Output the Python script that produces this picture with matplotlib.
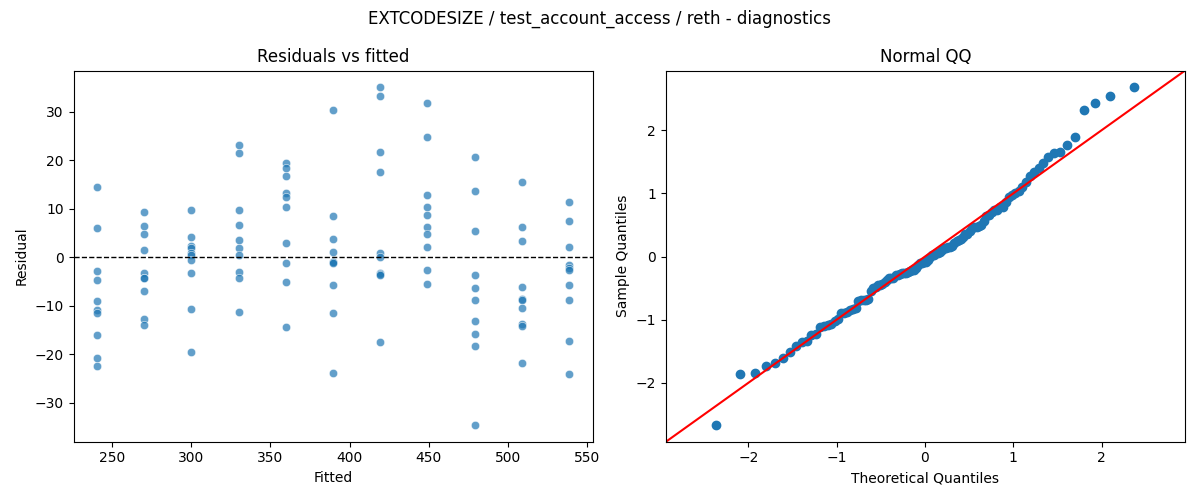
import matplotlib
matplotlib.use("Agg")
import matplotlib.pyplot as plt
import numpy as np
import seaborn as sns
from statistics import NormalDist

# fitted value of each group (one per x column in the residual plot)
fitted_levels = [240.6, 270.4, 300.2, 330.0, 359.8, 389.6, 419.4, 449.2, 479.0, 508.8, 538.6]

# residuals, one list per fitted level
resid_groups = [
    [14.4, 6.0, -2.9, -4.7, -9.1, -11.0, -11.5, -16.1, -20.9, -22.4],
    [9.3, 6.4, 4.7, 1.4, -3.2, -4.3, -4.4, -7.0, -12.8, -14.0],
    [9.7, 4.1, 2.2, 1.8, 0.8, 0.5, -0.6, -3.3, -10.7, -19.6],
    [23.1, 21.4, 9.7, 6.6, 3.6, 1.8, 0.5, -3.0, -4.3, -11.3],
    [19.4, 18.3, 16.7, 13.2, 12.5, 10.3, 2.9, -1.2, -5.1, -14.4],
    [30.3, 8.4, 3.7, 1.0, -1.0, -1.1, -1.2, -5.8, -11.5, -23.8],
    [35.0, 33.2, 21.6, 17.5, 0.8, 0.1, -3.3, -3.4, -3.6, -17.5],
    [31.7, 24.7, 12.8, 10.3, 8.6, 6.2, 4.7, 2.1, -2.7, -5.6],
    [20.6, 13.6, 5.4, -3.7, -6.4, -8.9, -13.2, -15.9, -18.3, -34.6],
    [15.6, 6.2, 3.3, -6.2, -8.6, -8.9, -10.5, -13.8, -14.3, -21.8],
    [11.3, 7.4, 2.1, -1.6, -2.2, -2.7, -5.8, -8.9, -17.4, -24.1],
]

fitted = np.concatenate([[f] * len(g) for f, g in zip(fitted_levels, resid_groups)])
resid = np.concatenate(resid_groups)

fig, axes = plt.subplots(1, 2, figsize=(12, 5), dpi=100)
fig.suptitle("EXTCODESIZE / test_account_access / reth - diagnostics")

# residuals vs fitted
ax = axes[0]
sns.scatterplot(x=fitted, y=resid, ax=ax, alpha=0.7)
ax.axhline(0, color="black", linestyle="--", linewidth=1)
ax.set_title("Residuals vs fitted")
ax.set_xlabel("Fitted")
ax.set_ylabel("Residual")

# normal QQ of the standardised residuals
ax = axes[1]
z = np.sort((resid - resid.mean()) / resid.std())
n = len(z)
nd = NormalDist()
theo = np.array([nd.inv_cdf(i / (n + 1)) for i in range(1, n + 1)])
ax.plot(theo, z, marker="o", linestyle="none", color="C0")
ax.set_xmargin(0.02)
lo = min(ax.get_xlim()[0], ax.get_ylim()[0])
hi = max(ax.get_xlim()[1], ax.get_ylim()[1])
ax.plot([lo, hi], [lo, hi], "r-")
ax.set_xlim(lo, hi)
ax.set_ylim(lo, hi)
ax.set_title("Normal QQ")
ax.set_xlabel("Theoretical Quantiles")
ax.set_ylabel("Sample Quantiles")

plt.tight_layout()
plt.savefig("out.png")
